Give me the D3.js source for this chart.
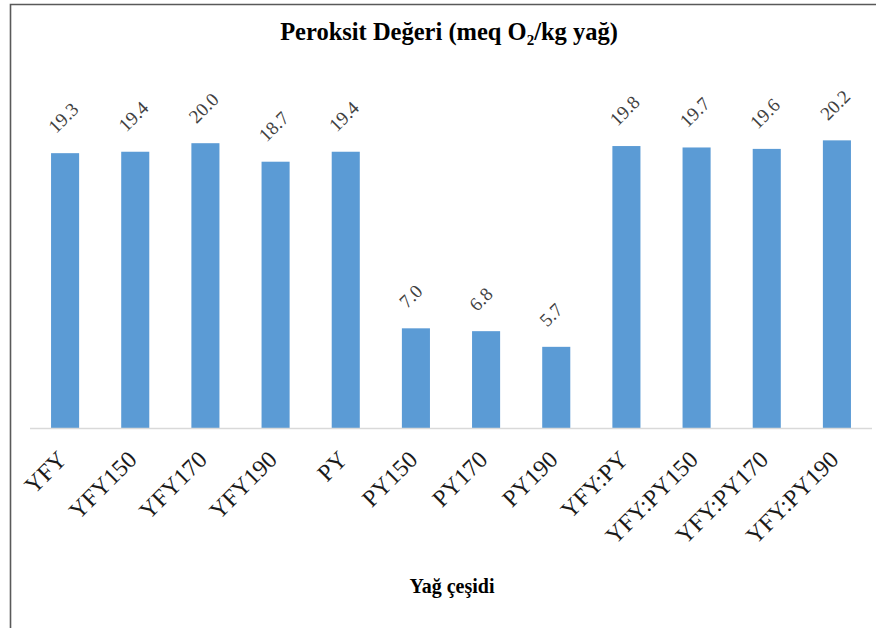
<!DOCTYPE html>
<html>
<head>
<meta charset="utf-8">
<script src="https://cdn.jsdelivr.net/npm/d3@7"></script>
<style>
body{margin:0;background:#fff}
svg{display:block}
svg text{font-family:"Liberation Serif","Times New Roman",serif}
</style>
</head>
<body>
<div id="chart"></div>
<script>
var categories = ["YFY","YFY150","YFY170","YFY190","PY","PY150","PY170","PY190","YFY:PY","YFY:PY150","YFY:PY170","YFY:PY190"]
var values = [19.3,19.4,20.0,18.7,19.4,7.0,6.8,5.7,19.8,19.7,19.6,20.2]
var labels = ["19.3","19.4","20.0","18.7","19.4","7.0","6.8","5.7","19.8","19.7","19.6","20.2"]

var width = 876, height = 628

var svg = d3.select("#chart").append("svg")
  .attr("width", width).attr("height", height)

// frame (runs off right/bottom like the source crop)
svg.append("path")
  .attr("d", "M10.5," + height + " V4.5 H" + width)
  .attr("fill", "none").attr("stroke", "#595959").attr("stroke-width", 1.6)

var x = d3.scaleBand()
  .domain(categories)
  .range([30, 872])
  .paddingInner(0.6).paddingOuter(0.3)

var y = d3.scaleLinear()
  .domain([0, 25])
  .range([428, 72])

svg.selectAll("rect.bar").data(values).enter()
  .append("rect")
  .attr("class", "bar")
  .attr("x", function(d,i){return x(categories[i])})
  .attr("width", x.bandwidth())
  .attr("y", function(d){return y(d)})
  .attr("height", function(d){return y(0) - y(d)})
  .attr("fill", "#5b9bd5")

// x axis line
svg.append("line")
  .attr("x1", 30).attr("x2", 872)
  .attr("y1", y(0) + 0.5).attr("y2", y(0) + 0.5)
  .attr("stroke", "#d9d9d9").attr("stroke-width", 1.5)

// value labels
svg.selectAll("text.val").data(values).enter()
  .append("text")
  .attr("class", "val")
  .attr("transform", function(d,i){
    var cx = x(categories[i]) + x.bandwidth()/2
    return "translate(" + (cx - 9) + "," + (y(d) - 19) + ") rotate(-45)"
  })
  .style("font-size", "19px").attr("fill", "#404040")
  .text(function(d,i){return labels[i]})

// category labels
svg.selectAll("text.cat").data(categories).enter()
  .append("text")
  .attr("class", "cat")
  .attr("text-anchor", "end")
  .attr("transform", function(d){
    var cx = x(d) + x.bandwidth()/2
    return "translate(" + (cx + 3) + "," + (y(0) + 33) + ") rotate(-45)"
  })
  .style("font-size", "24px").attr("fill", "#1a1a1a")
  .text(function(d){return d})

// title
var title = svg.append("text")
  .attr("x", 449).attr("y", 40)
  .attr("text-anchor", "middle")
  .style("font-size", "24.5px").style("font-weight", "bold")
  .attr("fill", "#000")
title.append("tspan").text("Peroksit Değeri (meq O")
title.append("tspan").style("font-size", "15px").attr("dy", 5).text("2")
title.append("tspan").attr("dy", -5).text("/kg yağ)")

// axis title
svg.append("text")
  .attr("x", 452).attr("y", 593)
  .attr("text-anchor", "middle")
  .style("font-size", "20px").style("font-weight", "bold")
  .text("Yağ çeşidi")
</script>
</body>
</html>
